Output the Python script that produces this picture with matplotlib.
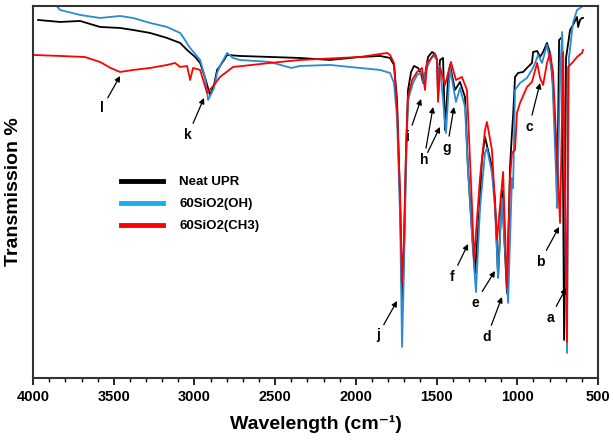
import matplotlib
matplotlib.use("Agg")
import matplotlib.pyplot as plt
from matplotlib.ticker import MultipleLocator

plt.rcParams['font.family'] = ['Liberation Sans', 'DejaVu Sans']

# FTIR spectra (wavenumber cm-1, transmission a.u.)
wn_neat = [3969, 3833, 3709, 3585, 3461, 3381, 3275, 3170, 3089, 3046, 2996, 2965, 2934, 2904, 2879,
           2860, 2842, 2817, 2798, 2718, 2532, 2346, 2160, 1974, 1850, 1788, 1764, 1745, 1726, 1714,
           1702, 1689, 1677, 1658, 1640, 1615, 1597, 1584, 1572, 1553, 1528, 1510, 1497, 1491, 1479,
           1460, 1448, 1429, 1417, 1386, 1355, 1324, 1306, 1280, 1262, 1231, 1219, 1200, 1157, 1138,
           1119, 1095, 1064, 1045, 1033, 1026, 1014, 995, 964, 940, 909, 902, 877, 859, 840, 816, 797,
           778, 759, 753, 741, 722, 710, 698, 673, 655, 630, 623, 611, 599, 593]
tr_neat = [358, 356, 357, 351, 350, 348, 345, 340, 335, 328, 321, 315, 300, 283, 293,
           308, 312, 318, 323, 322, 321, 320, 318, 321, 322, 320, 313, 278, 178, 75,
           128, 228, 288, 306, 312, 310, 305, 295, 303, 321, 326, 324, 318, 280, 318,
           320, 248, 298, 313, 288, 296, 281, 211, 145, 105, 178, 218, 241, 211, 178,
           101, 188, 85, 211, 245, 262, 301, 305, 306, 310, 315, 326, 327, 321, 326, 335, 325,
           291, 228, 171, 338, 341, 38, 320, 348, 353, 361, 351, 358, 360, 360]

wn_oh = [3990, 3870, 3833, 3709, 3585, 3461, 3381, 3275, 3170, 3089, 3071, 3027, 2965, 2934, 2916,
         2879, 2860, 2842, 2798, 2761, 2718, 2532, 2400, 2346, 2160, 1974, 1850, 1788, 1764, 1745,
         1726, 1714, 1702, 1689, 1677, 1646, 1621, 1590, 1584, 1559, 1522, 1497, 1491, 1479, 1442,
         1417, 1380, 1355, 1324, 1306, 1280, 1256, 1231, 1200, 1188, 1157, 1138, 1119, 1095, 1057,
         1033, 1026, 1014, 983, 940, 902, 871, 847, 816, 784, 759, 753, 735, 722, 692, 680, 655,
         630, 611, 593]
tr_oh = [385, 375, 368, 363, 360, 362, 360, 355, 351, 345, 341, 330, 318, 300, 278,
         290, 305, 312, 325, 320, 318, 316, 310, 312, 313, 310, 308, 305, 295, 260,
         160, 31, 110, 210, 278, 295, 303, 306, 295, 311, 323, 318, 295, 312, 245,
         310, 276, 290, 271, 211, 140, 86, 170, 225, 230, 205, 170, 100, 180, 75,
         200, 190, 288, 295, 300, 310, 323, 315, 333, 305, 200, 170, 300, 346, 25, 320, 355,
         368, 370, 372]

wn_ch3 = [4000, 3833, 3680, 3585, 3520, 3461, 3381, 3275, 3170, 3120, 3089, 3046, 3027, 3009, 2965,
          2922, 2879, 2842, 2761, 2532, 2346, 1974, 1807, 1788, 1764, 1745, 1726, 1714, 1702, 1689,
          1677, 1652, 1621, 1590, 1572, 1559, 1528, 1510, 1497, 1491, 1479, 1448, 1411, 1380, 1343,
          1312, 1280, 1268, 1231, 1200, 1188, 1157, 1126, 1088, 1064, 1045, 1033, 1014, 1002, 983,
          940, 909, 877, 859, 840, 816, 797, 778, 735, 716, 692, 685, 655, 630, 599, 593]
tr_ch3 = [323, 322, 321, 316, 310, 306, 308, 310, 313, 315, 311, 312, 298, 310, 308,
          285, 293, 301, 311, 315, 318, 321, 325, 323, 315, 270, 180, 95, 140, 230,
          281, 298, 306, 310, 288, 315, 321, 324, 318, 276, 311, 293, 316, 298, 301,
          288, 170, 118, 200, 248, 256, 228, 138, 206, 90, 200, 225, 228, 265, 275,
          291, 296, 315, 300, 293, 315, 325, 305, 155, 326, 36, 311, 316, 321, 325, 328]

series = [("Neat UPR", wn_neat, tr_neat, "black"),
          ("60SiO2(OH)", wn_oh, tr_oh, "#2a8ad2"),
          ("60SiO2(CH3)", wn_ch3, tr_ch3, "#ff0000")]

# peak labels: (letter, label position, arrow tip)
peak_letters = ["a", "b", "c", "d", "e", "f", "g", "h", "h", "i", "j", "k", "l"]
label_pos = [(797, 60), (859, 116), (927, 251), (1188, 41), (1262, 75), (1404, 101), (1435, 230),
             (1578, 218), (1578, 218), (1677, 241), (1863, 43), (3040, 243), (3573, 270)]
arrow_tip = [(698, 90), (741, 151), (859, 295), (1095, 81), (1138, 107), (1305, 134), (1392, 271),
             (1522, 271), (1479, 251), (1596, 279), (1745, 77), (2941, 280), (3461, 302)]

fig = plt.figure(figsize=(6.13, 4.45), dpi=100)
ax = fig.add_axes([0.054, 0.1506, 0.9215, 0.836])
for name, x, y, c in series:
    ax.plot(x, y, color=c, lw=1.3, label=name)

for i, (lt, p, t) in enumerate(zip(peak_letters, label_pos, arrow_tip)):
    # second "h" arrow shares the first label
    txt = "" if (lt == "h" and i == 8) else lt
    ax.annotate(txt, xy=t, xytext=p, ha="center", va="center", fontsize=10, fontweight="bold",
                arrowprops=dict(arrowstyle="-|>", color="black", lw=0.9, mutation_scale=8,
                                shrinkA=1.5 if txt else 6, shrinkB=0))

ax.set_xlim(4000, 500)
ax.set_ylim(0, 372)
ax.xaxis.set_major_locator(MultipleLocator(500))
ax.xaxis.set_minor_locator(MultipleLocator(100))
ax.set_yticks([])
ax.tick_params(axis="x", which="major", direction="out", length=5, width=1.2, labelsize=10.5, pad=4)
ax.tick_params(axis="x", which="minor", direction="out", length=3, width=1)
for lab in ax.get_xticklabels():
    lab.set_fontweight("bold")
for s in ax.spines.values():
    s.set_linewidth(1.5)
    s.set_color("#333333")

ax.set_xlabel("Wavelength (cm\u207b\u00b9)", fontsize=14, fontweight="bold", labelpad=8)
ax.set_ylabel("Transmission %", fontsize=14, fontweight="bold", labelpad=8)

leg = ax.legend(loc="upper left", bbox_to_anchor=(0.135, 0.575), frameon=False, handlelength=3.2,
                handletextpad=1.2, labelspacing=0.75, prop=dict(weight="bold", size=9.5))
for h, c in zip(leg.legend_handles, ["black", "#19aee8", "#ff0000"]):
    h.set_linewidth(3.5)
    h.set_color(c)

fig.savefig("out.png", dpi=100)
